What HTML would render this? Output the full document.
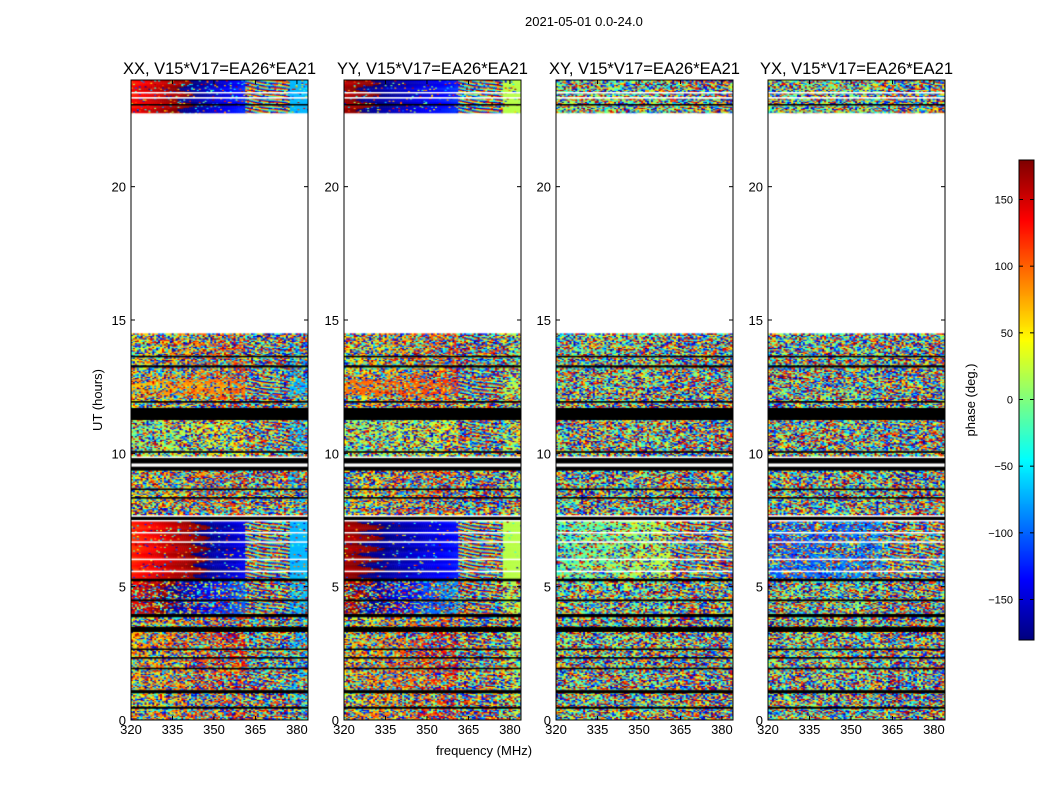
<!DOCTYPE html>
<html><head><meta charset="utf-8">
<style>
html,body{margin:0;padding:0;background:#fff;}
body{width:1050px;height:800px;position:relative;overflow:hidden;font-family:"Liberation Sans","DejaVu Sans",sans-serif;}
.t{position:absolute;white-space:nowrap;color:#000;}
canvas{position:absolute;}
</style></head>
<body>
<div class="t" style="left:525px;top:14px;font-size:13px;">2021-05-01 0.0-24.0</div>
<div id="root"></div>
<svg id="ax" width="1050" height="800" style="position:absolute;left:0;top:0;font-family:'Liberation Sans','DejaVu Sans',sans-serif;font-size:13px"></svg>
<script>
// ---- data ----
const pols = ["XX","YY","XY","YX"];
const freqTicks = [320,335,350,365,380];
const timeTicks = [0,5,10,15,20];
const cbarTicks = [150,100,50,0,-50,-100,-150];
// data blocks (hours)
const blockStart = [0.0,0.5,1.12,3.5,4.0,5.3,7.7,9.9,11.7,12.2,12.8,22.75];
const blockEnd   = [0.42,1.0,3.3,3.85,5.2,7.45,9.35,11.25,12.2,12.8,14.5,24.0];
// coherence per block per pol (0 = pure noise, 1 = smooth phase)
const cohXX = [0.2,0.2,0.25,0.2,0.5,0.9,0.15,0.3,0.2,0.55,0.2,0.85];
const cohYY = [0.2,0.2,0.25,0.2,0.45,0.95,0.15,0.3,0.2,0.55,0.2,0.9];
const cohXY = [0.1,0.1,0.1,0.1,0.15,0.45,0.1,0.1,0.1,0.1,0.1,0.2];
const cohYX = [0.1,0.1,0.1,0.1,0.15,0.4,0.1,0.1,0.1,0.1,0.1,0.2];
// phase at 320 MHz (deg) and slope (deg/MHz) below 362 MHz
const phase0XX = [60,40,60,40,140,120,40,0,40,70,40,130];
const phase0YY = [60,40,60,40,160,165,40,0,40,90,40,165];
const phase0XY = [0,0,0,0,0,-20,0,0,0,0,0,0];
const phase0YX = [0,0,0,0,0,-110,0,0,0,0,0,0];
const slopeXX = [2,2,2,2,3,2.4,2,1,2,0.5,2,2.6];
const slopeYY = [2,2,2,2,3,1.6,2,1,2,0.5,2,1.8];
const slopeXY = [0,0,0,0,0,1,0,0,0,0,0,0];
const slopeYX = [0,0,0,0,0,0.5,0,0,0,0,0,0];
// flagged (black) intervals and white gaps (hours)
const blackStart = [0.42,1.0,1.9,2.3,2.62,3.3,3.85,4.45,5.2,7.5,8.3,8.62,9.35,9.62,10.02,11.25,11.9,13.22,13.6,23.05];
const blackEnd   = [0.5,1.12,1.96,2.36,2.68,3.5,3.98,4.52,5.3,7.62,8.36,8.68,9.5,9.82,10.08,11.7,11.96,13.3,13.66,23.1];
const whiteStart = [5.55,6.0,6.65,7.0,7.45,14.5,23.3,23.5];
const whiteEnd   = [5.6,6.05,6.7,7.05,7.5,22.75,23.36,23.55];

const cohs=[cohXX,cohYY,cohXY,cohYX], ph0s=[phase0XX,phase0YY,phase0XY,phase0YX], slopes=[slopeXX,slopeYY,slopeXY,slopeYX];

function jet(v){
  const r=Math.min(Math.max(Math.min(4*v-1.5,-4*v+4.5),0),1);
  const g=Math.min(Math.max(Math.min(4*v-0.5,-4*v+3.5),0),1);
  const b=Math.min(Math.max(Math.min(4*v+0.5,-4*v+2.5),0),1);
  return [r*255|0,g*255|0,b*255|0];
}
function hash(a,b,c){let h=(a*374761393+b*668265263+c*2147483647)|0;h=(h^(h>>>13))*1274126177|0;h=h^(h>>>16);return ((h>>>0)%10000)/10000;}

const panelLeft=[131,344,556,768], PW=177, PT=80, PB=720;
const fx=(f,i)=>panelLeft[i]+(f-320)*(PW/64);
const ty=h=>PB-h*(PB-PT)/24;
const NS="http://www.w3.org/2000/svg";
const svg=document.getElementById('ax');
function el(tag,attrs){const e=document.createElementNS(NS,tag);for(const k in attrs)e.setAttribute(k,attrs[k]);svg.appendChild(e);return e;}
function txt(x,y,s,anchor,size){const e=el('text',{x:x,y:y,'text-anchor':anchor,'font-size':size||13});e.textContent=s;return e;}

pols.forEach((p,i)=>{
  const c=document.createElement('canvas');
  
  
  c.width=PW;c.height=PB-PT;c.style.left=panelLeft[i]+'px';c.style.top=PT+'px';
  document.getElementById('root').appendChild(c);
  const ctx=c.getContext('2d');
  const dt=0.045, df=0.7;
  for(let b=0;b<blockStart.length;b++){
    for(let t=blockStart[b], ti=0; t<blockEnd[b]; t+=dt, ti++){
      for(let f=320, fi=0; f<384; f+=df, fi++){
        const n=hash(fi+i*97,ti+b*131,i+1)*360-180;
        let sm, fr=false;
        if(f<361) sm=ph0s[i][b]+slopes[i][b]*(f-320)+Math.sin(ti*0.7)*8;
        else { fr=true; sm=((f-361)*45+ti*120+i*30+Math.sin(fi*0.3)*60)%360; if(f>377 && i<2) {sm=(i==1?20:-70);fr=false;} }
        let coh=cohs[i][b]; if(fr) coh=Math.min(coh+0.1,0.8);
        const w=hash(fi,ti+7*b,i+5)<coh;
        let ph=w?sm:n;
        ph=((ph+180)%360+360)%360-180;
        const [r,g,bb]=jet((ph+180)/360);
        ctx.fillStyle=`rgb(${r},${g},${bb})`;
        const x0=fx(f,i)-panelLeft[i], y0=ty(t+dt)-PT;
        ctx.fillRect(x0,y0,df*PW/64+0.5,dt*640/24+0.5);
      }
    }
  }
  ctx.fillStyle='#000';
  for(let k=0;k<blackStart.length;k++){const y1=ty(blackEnd[k])-PT,y2=ty(blackStart[k])-PT;ctx.fillRect(0,y1,PW,Math.max(y2-y1,1.5));}
  ctx.fillStyle='#fff';
  for(let k=0;k<whiteStart.length;k++){const y1=ty(whiteEnd[k])-PT,y2=ty(whiteStart[k])-PT;ctx.fillRect(0,y1,PW,Math.max(y2-y1,1.5));}
  const L=panelLeft[i];
  el('rect',{x:L,y:PT,width:PW,height:PB-PT,fill:'none',stroke:'#000','stroke-width':1,});
  txt(L+PW/2,74,p+', V15*V17=EA26*EA21','middle',16.5);
  freqTicks.forEach(f=>{const x=fx(f,i);el('line',{x1:x,x2:x,y1:PB,y2:PB-4,stroke:'#000'});el('line',{x1:x,x2:x,y1:PT,y2:PT+4,stroke:'#000'});
    const t=txt(x,PB+14,String(f),'middle');});
  timeTicks.forEach(h=>{const y=ty(h);el('line',{x1:L,x2:L+4,y1:y,y2:y,stroke:'#000'});el('line',{x1:L+PW,x2:L+PW-4,y1:y,y2:y,stroke:'#000'});
    const t=txt(L-5,y+5,String(h),'end');});
});
txt(484,755,'frequency (MHz)','middle');
const yt=txt(0,0,'UT (hours)','middle');yt.setAttribute('transform','translate(102,400) rotate(-90)');
const cb=document.createElement('canvas');


cb.width=15;cb.height=480;cb.style.left='1019px';cb.style.top='160px';
document.getElementById('root').appendChild(cb);
const cctx=cb.getContext('2d');
for(let y=0;y<480;y++){const [r,g,b]=jet(1-y/479);cctx.fillStyle=`rgb(${r},${g},${b})`;cctx.fillRect(0,y,15,1);}
el('rect',{x:1019,y:160,width:15,height:480,fill:'none',stroke:'#000',});
const cy=v=>399.5-v*(480/360);
cbarTicks.forEach(v=>{const y=cy(v);el('line',{x1:1019,x2:1023,y1:y,y2:y,stroke:'#000'});el('line',{x1:1034,x2:1030,y1:y,y2:y,stroke:'#000'});
  const t=txt(1013,y+4,String(v).replace('-','\u2212'),'end',11);});
const ct=txt(0,0,'phase (deg.)','middle');ct.setAttribute('transform','translate(975,400) rotate(-90)');
</script>
</body></html>
